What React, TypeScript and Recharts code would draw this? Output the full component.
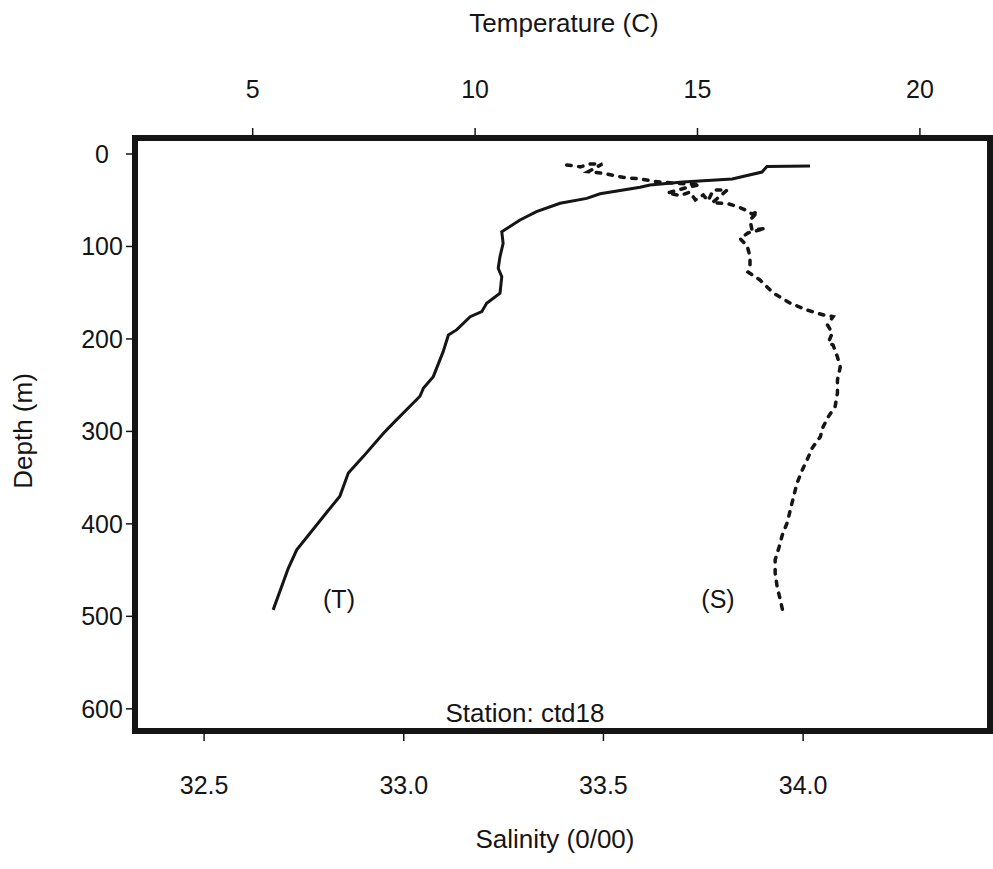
import { Line, LineChart, XAxis, YAxis } from "recharts";

// CTD station ctd18: temperature and salinity profiles against depth
const tempC = [17.53, 16.56, 16.45, 15.78, 14.67, 13.93, 13.71, 12.81, 12.51, 11.91, 11.38, 11.01, 10.6, 10.63, 10.56, 10.52, 10.6, 10.56, 10.26, 10.15, 9.89, 9.59, 9.4, 9.28, 9.06, 8.84, 8.76, 8.16, 7.94, 7.49, 7.15, 6.96, 6.59, 5.99, 5.8, 5.46];
const tempDepth = [13, 13.5, 19.5, 27, 30.3, 33.5, 36, 43, 48, 53.3, 62.4, 71.4, 84, 96.6, 111, 123.6, 132.6, 150.6, 161.4, 170.5, 175.9, 190, 195.7, 214, 240.8, 253, 262, 291, 302, 327, 345, 370, 392, 428, 448, 493];

const salinity = [33.408, 33.442, 33.467, 33.497, 33.462, 33.499, 33.549, 33.592, 33.629, 33.672, 33.712, 33.742, 33.705, 33.66, 33.692, 33.717, 33.73, 33.75, 33.762, 33.775, 33.81, 33.772, 33.81, 33.835, 33.855, 33.872, 33.887, 33.867, 33.872, 33.906, 33.862, 33.842, 33.86, 33.867, 33.867, 33.862, 33.892, 33.925, 33.968, 34.009, 34.051, 34.075, 34.061, 34.073, 34.063, 34.075, 34.086, 34.093, 34.086, 34.086, 34.08, 34.063, 34.05, 34.043, 34.023, 34.01, 33.998, 33.985, 33.976, 33.968, 33.96, 33.948, 33.94, 33.93, 33.93, 33.935, 33.943, 33.95];
const salDepth = [11.9, 13.9, 10.8, 10.8, 19.1, 20.9, 25.2, 27, 29.7, 31.4, 32.4, 33, 36.8, 42.2, 44.9, 41.1, 49.7, 44.3, 50.8, 38.9, 38.9, 52.9, 53.5, 56.8, 60.5, 64.9, 62.2, 71.4, 82.2, 80.5, 85.4, 91.4, 99.5, 111, 121.8, 127.6, 136.2, 150.3, 161.4, 168.6, 174.1, 175.9, 184.9, 193.5, 204.3, 206.5, 219.5, 230.3, 244.3, 258.4, 273.5, 284.3, 295.1, 305.9, 317.8, 330.8, 341.6, 355.7, 370.8, 384.9, 398.9, 411.9, 424.9, 438.9, 453, 468.1, 482.2, 496.2];

const tempTicks = [5, 10, 15, 20];
const salTicks = [32.5, 33.0, 33.5, 34.0];
const depthTicks = [0, 100, 200, 300, 400, 500, 600];

const tempData = tempC.map((t, i) => ({ t, d: tempDepth[i] }));
const salData = salinity.map((s, i) => ({ s, d: salDepth[i] }));

const FONT = '"Liberation Sans", Arial, Helvetica, sans-serif';
const INK = "#151515";
const DEPTH_DOMAIN: [number, number] = [-17.3, 624];

const border = { stroke: INK, strokeWidth: 6, strokeLinecap: "square" as const };
const tickMark = { stroke: INK, strokeWidth: 1.5 };

function TopTick({ x, payload }: any) {
  return (
    <text x={x} y={98} textAnchor="middle" fontSize={25} fontFamily={FONT} fill={INK}>
      {payload.value}
    </text>
  );
}

function BottomTick({ x, payload }: any) {
  return (
    <text x={x} y={794} textAnchor="middle" fontSize={25} fontFamily={FONT} fill={INK}>
      {Number(payload.value).toFixed(1)}
    </text>
  );
}

function LeftTick({ y, payload }: any) {
  return (
    <text x={102} y={y + 9} textAnchor="middle" fontSize={25} fontFamily={FONT} fill={INK}>
      {payload.value}
    </text>
  );
}

export default function App() {
  return (
    <div style={{ position: "relative", width: 993, height: 869, background: "#fff" }}>
      <style>{`body{margin:0}`}</style>
      <LineChart width={993} height={869} margin={{ top: 0, right: 0, bottom: 0, left: 0 }}>
        <XAxis
          xAxisId="temp"
          orientation="top"
          type="number"
          dataKey="t"
          height={138}
          domain={[2.354, 21.576]}
          ticks={tempTicks}
          allowDataOverflow
          tickSize={10}
          axisLine={border}
          tickLine={tickMark}
          tick={TopTick}
        />
        <XAxis
          xAxisId="sal"
          orientation="bottom"
          type="number"
          dataKey="s"
          height={138}
          domain={[32.327, 34.468]}
          ticks={salTicks}
          allowDataOverflow
          tickSize={10}
          axisLine={border}
          tickLine={tickMark}
          tick={BottomTick}
        />
        <YAxis
          yAxisId="depth"
          type="number"
          width={135}
          domain={DEPTH_DOMAIN}
          ticks={depthTicks}
          reversed
          allowDataOverflow
          tickSize={9}
          axisLine={border}
          tickLine={tickMark}
          tick={LeftTick}
        />
        <YAxis
          yAxisId="frame"
          orientation="right"
          type="number"
          width={3}
          domain={DEPTH_DOMAIN}
          tick={false}
          tickLine={false}
          axisLine={border}
        />
        <Line
          xAxisId="temp"
          yAxisId="depth"
          data={tempData}
          dataKey="d"
          stroke={INK}
          strokeWidth={3}
          dot={false}
          isAnimationActive={false}
        />
        <Line
          xAxisId="sal"
          yAxisId="depth"
          data={salData}
          dataKey="d"
          stroke={INK}
          strokeWidth={3.5}
          strokeDasharray="4.5 7.5"
          strokeLinecap="round"
          dot={false}
          isAnimationActive={false}
        />
      </LineChart>
      <svg
        width={993}
        height={869}
        style={{ position: "absolute", left: 0, top: 0, pointerEvents: "none" }}
        fontFamily={FONT}
        fontSize={26}
        fill={INK}
      >
        <text x={564} y={32} textAnchor="middle">Temperature (C)</text>
        <text x={555} y={848} textAnchor="middle">Salinity (0/00)</text>
        <text x={32} y={431} textAnchor="middle" transform="rotate(-90 32 431)">Depth (m)</text>
        <text x={339} y={608} textAnchor="middle" fontSize={25}>(T)</text>
        <text x={718} y={608} textAnchor="middle" fontSize={25}>(S)</text>
        <text x={525} y={722} textAnchor="middle">Station: ctd18</text>
      </svg>
    </div>
  );
}
